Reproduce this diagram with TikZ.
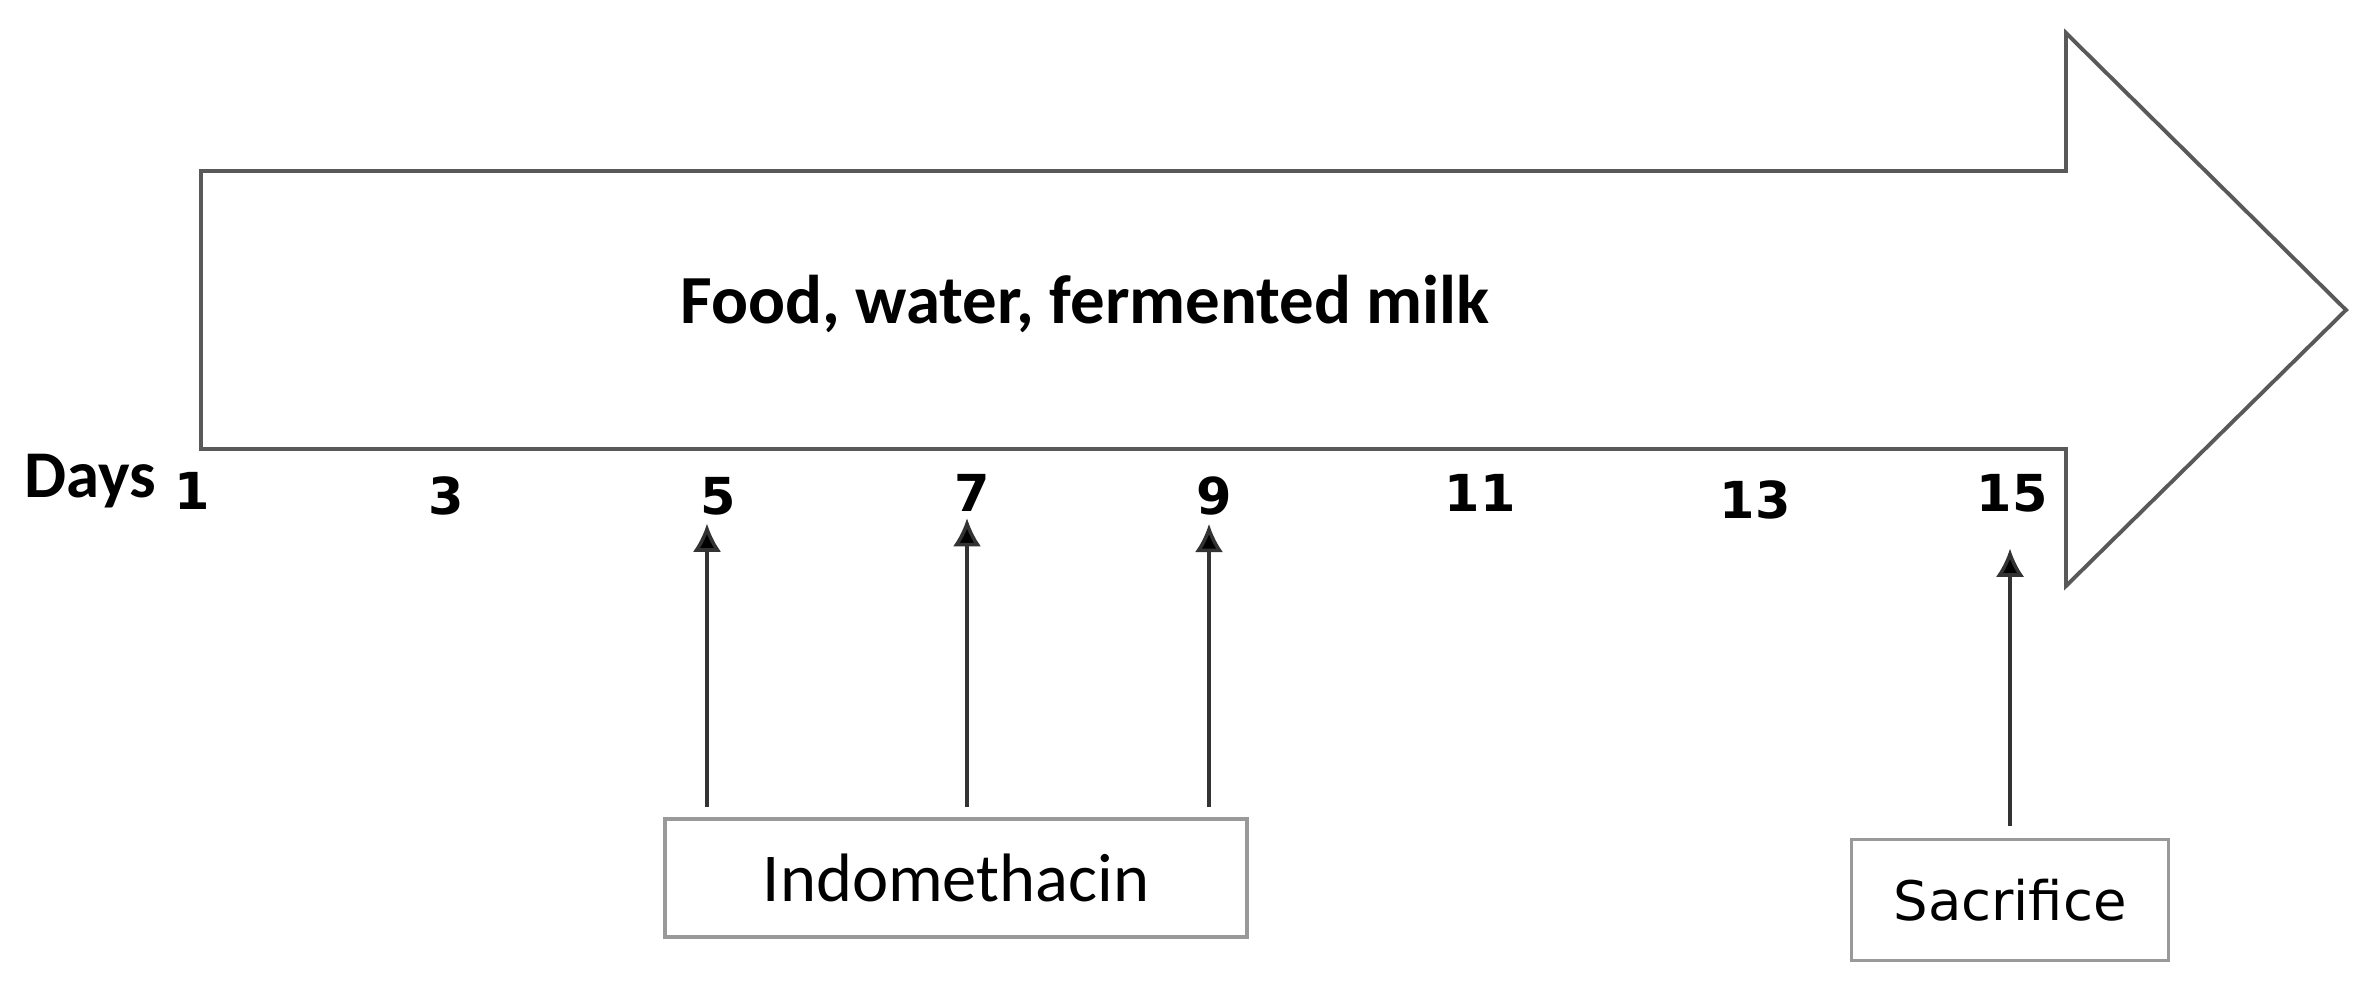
\documentclass[tikz,border=0pt]{standalone}
\usepackage{fontspec}
\setmainfont{Carlito}
\newfontfamily\numfont{DejaVu Sans}
\usepackage{tikz}
\usetikzlibrary{positioning,calc,arrows.meta}

\begin{document}
\begin{tikzpicture}[
    bigarrow/.style={draw=black!65, line width=1.1pt, line join=miter},
    daynum/.style={inner sep=0pt, font=\numfont\bfseries\fontsize{14.5}{16}\selectfont},
    drugbox/.style={rectangle, draw=black!40, line width=0.9pt, inner sep=0pt},
    arrow/.style={-{Latex[length=8pt,width=8pt,fill=black]}, draw=black!80, line width=1pt}
]
    \useasboundingbox (0,0) rectangle (23.70,9.93);

    % timeline arrow
    \draw[bigarrow] (2.01,8.22) -- (20.66,8.22) -- (20.66,9.60) -- (23.46,6.83)
        -- (20.66,4.07) -- (20.66,5.44) -- (2.01,5.44) -- cycle;
    \node[font=\bfseries\fontsize{19.6}{22}\selectfont] (diet) at (10.85,6.89) {Food, water, fermented milk};

    % days
    \node[inner sep=0pt, font=\bfseries\fontsize{19}{21}\selectfont] (days) at (0.90,5.12) {Days};
    \node[daynum] (d1) at (1.92,5.02) {1};
    \node[daynum] (d3) at (4.46,4.97) {3};
    \node[daynum] (d5) at (7.18,4.97) {5};
    \node[daynum] (d7) at (9.72,5.00) {7};
    \node[daynum] (d9) at (12.14,4.97) {9};
    \node[daynum] (d11) at (14.80,5.00) {11};
    \node[daynum] (d13) at (17.55,4.93) {13};
    \node[daynum] (d15) at (20.12,5.00) {15};

    % treatments
    \node[drugbox, minimum width=5.82cm, minimum height=1.18cm, font=\fontsize{19.5}{22}\selectfont] (indo) at (9.56,1.15) {Indomethacin};
    \node[drugbox, minimum width=3.17cm, minimum height=1.21cm, font=\numfont\fontsize{15.5}{18}\selectfont] (sacr) at (20.10,0.93) {Sacrifice};

    \draw[arrow, shorten <=1mm, shorten >=0.8mm] ([xshift=-1.1mm]indo.north -| d5) -- ([xshift=-1.1mm]d5.south);
    \draw[arrow, shorten <=1mm, shorten >=0.6mm] ([xshift=-0.5mm]indo.north -| d7) -- ([xshift=-0.5mm]d7.south);
    \draw[arrow, shorten <=1mm, shorten >=0.8mm] ([xshift=-0.5mm]indo.north -| d9) -- ([xshift=-0.5mm]d9.south);
    \draw[arrow, shorten <=1.2mm, shorten >=3.6mm] ([xshift=-0.2mm]sacr.north -| d15) -- ([xshift=-0.2mm]d15.south);
\end{tikzpicture}
\end{document}
